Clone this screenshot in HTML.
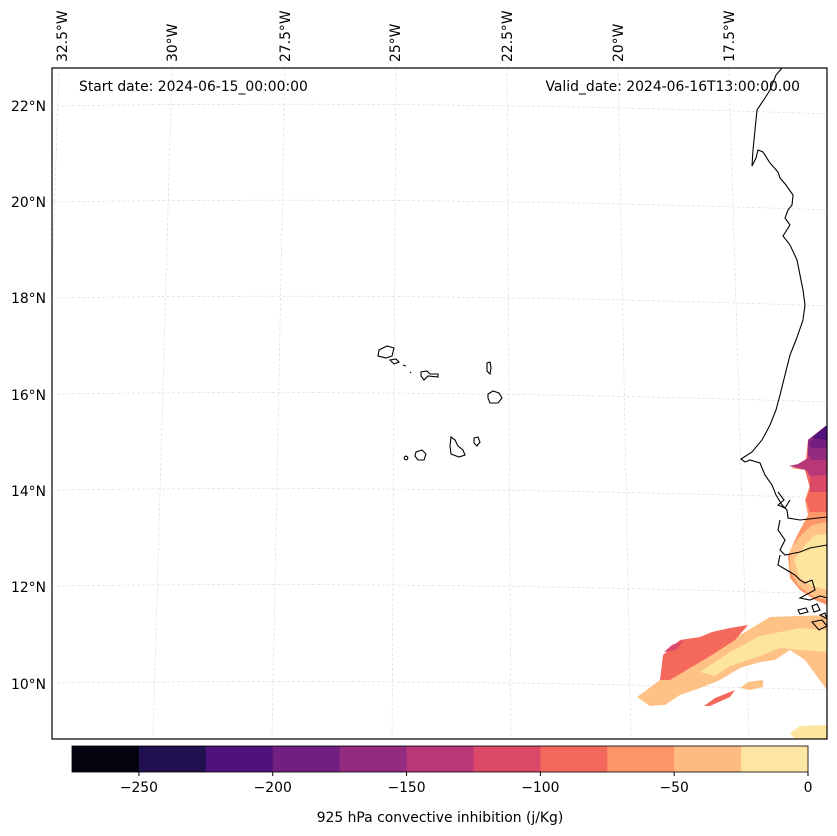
<!DOCTYPE html>
<html><head><meta charset="utf-8"><style>
body{margin:0;background:#fff}
svg{display:block;font-family:"DejaVu Sans","Liberation Sans",sans-serif}
</style></head><body>
<svg width="837" height="836" viewBox="0 0 837 836">
<defs><clipPath id="mapclip"><rect x="52" y="68" width="775" height="671"/></clipPath></defs>
<g clip-path="url(#mapclip)">
  <g stroke="#d8d8d8" stroke-width="0.6" stroke-dasharray="3,2" fill="none">
    <path d="M52,106 Q440,100 827,114"/>
    <path d="M52,202 Q440,196 827,210"/>
    <path d="M52,298 Q440,292 827,306"/>
    <path d="M52,394 Q440,389 827,402"/>
    <path d="M52,490 Q440,485 827,498"/>
    <path d="M52,586 Q440,581 827,594"/>
    <path d="M52,683 Q440,678 827,690"/>
    <path d="M59,68 L37,739"/>
    <path d="M172,68 L153,739"/>
    <path d="M285,68 L272,739"/>
    <path d="M396,68 L392,739"/>
    <path d="M507,68 L511,739"/>
    <path d="M618,68 L631,739"/>
    <path d="M729,68 L749,739"/>
  </g>
  <g stroke="none">
    <polygon fill="#fec287" points="637,697 660,680 700,660 740,635 770,617 827,615 827,690 805,660 790,650 775,660 760,662 740,668 720,680 700,688 680,695 665,705 650,706"/>
    <polygon fill="#f4695c" points="663,655 680,640 700,637 712,632 730,628 748,625 735,640 712,655 690,668 670,680 660,680"/>
    <polygon fill="#dd4a69" points="664,652 672,645 684,640 676,650"/>
    <polygon fill="#fde5a0" points="700,672 730,652 760,636 800,628 827,630 827,652 800,650 780,648 760,656 730,666 715,676"/>
    <polygon fill="#f4695c" points="704,706 715,698 735,690 730,697 710,706"/>
    <polygon fill="#fec287" points="740,688 748,682 763,680 763,687 750,690"/>
    <polygon fill="#fde5a0" points="790,733 800,726 827,725 827,739 795,739"/>
    <polygon fill="#fd9668" points="790,468 810,465 808,440 827,425 827,605 815,600 800,590 790,578 788,556 795,540 800,530 808,515 805,500 810,485 805,470"/>
    <polygon fill="#fec287" points="790,550 800,536 812,525 827,522 827,600 812,596 798,585 790,570"/>
    <polygon fill="#fde5a0" points="794,560 805,545 815,535 827,534 827,590 812,586 800,578"/>
    <polygon fill="#f4695c" points="805,470 808,440 827,425 827,512 810,512 806,500 810,488"/>
    <polygon fill="#dd4a69" points="807,465 808,440 827,425 827,492 810,492 810,478"/>
    <polygon fill="#b73779" points="789,466 798,464 808,458 808,440 827,425 827,475 810,476 806,470"/>
    <polygon fill="#932b80" points="808,455 808,440 827,425 827,460 812,460"/>
    <polygon fill="#721f81" points="808,444 827,425 827,448 812,448"/>
    <polygon fill="#4f127b" points="812,438 827,425 827,440"/>
  </g>
  <g fill="none" stroke="#000" stroke-width="1.1">
    <polyline points="782,68 776,75 770,90 765,98 757,110 755,130 753,150 752,166 756,158 758,150 763,152 770,163 778,172 780,178 786,185 793,195 792,205 788,210 785,218 790,225 783,236 790,245 797,260 800,275 803,290 805,305 803,320 796,340 790,355 785,375 780,395 776,410 770,425 762,440 752,452 741,459 745,462 750,460 760,463 765,475 772,485 776,495 782,505 787,510 788,518 800,520 827,517"/>
    <polyline points="778,492 784,500 778,505 785,508 790,500"/>
    <polyline points="780,520 778,530 785,540 780,550 785,555 800,552 810,548 827,545"/>
    <polyline points="780,555 778,565 790,572 795,575 800,580 805,583 812,580"/>
    <polyline points="812,580 815,590 800,598 810,600 820,596 827,598"/>
    <path d="M798,610 l8,-2 l2,4 l-8,2z M812,606 l5,-2 l3,6 l-6,2z M812,622 l10,-2 l5,6 l-8,4z M820,615 l5,-2 l2,6z"/>
    <path d="M379,350 l8,-4 l7,2 l-2,8 l-6,2 l-8,-2z"/>
    <path d="M390,360 l6,-1 l3,3 l-5,2z"/>
    <path d="M403,365 l3,1 M410,372 l1,1"/>
    <path d="M421,372 l6,-1 l3,3 l8,0 l0,3 l-10,-1 l-4,4 l-3,-4z"/>
    <path d="M487,363 l3,-1 l1,6 l-1,6 l-3,-3z"/>
    <path d="M488,394 l5,-3 l6,2 l3,5 l-4,5 l-8,0 l-2,-5z"/>
    <path d="M451,437 l4,3 l3,6 l5,4 l2,5 l-6,2 l-8,-3 l-1,-8z"/>
    <path d="M474,438 l4,-1 l2,5 l-3,4 l-3,-3z"/>
    <path d="M416,452 l6,-2 l4,4 l-2,6 l-6,0 l-3,-4z"/>
    <circle cx="406" cy="458" r="1.8"/>
  </g>
</g>
<rect x="52" y="68" width="775" height="671" fill="none" stroke="#000" stroke-width="1.2"/>
<text x="79" y="91" font-size="13.9">Start date: 2024-06-15_00:00:00</text>
<text x="800" y="91" font-size="13.9" text-anchor="end">Valid_date: 2024-06-16T13:00:00.00</text>
<g id="lonlabels" font-size="13.9"></g>
<g id="latlabels" font-size="13.9" text-anchor="end"></g>
<g id="cbar"></g>
<text x="440" y="822" font-size="13.9" text-anchor="middle">925 hPa convective inhibition (j/Kg)</text>
</svg>
<script>
const lonLabels=["32.5°W","30°W","27.5°W","25°W","22.5°W","20°W","17.5°W"];
const lonX=[62,172,285,395,507,618,729];
const latLabels=["22°N","20°N","18°N","16°N","14°N","12°N","10°N"];
const latY=[106,202,298,395,491,587,684];
const levels=[-275,-250,-225,-200,-175,-150,-125,-100,-75,-50,-25,0];
const levelColors=["#03030f","#211150","#4f127b","#711f81","#932b80","#b73779","#dc4868","#f3695c","#fd9567","#febb81","#fde5a3"];
const cbTicks=[-250,-200,-150,-100,-50,0];
const NS="http://www.w3.org/2000/svg";
function mk(t,a,p){const e=document.createElementNS(NS,t);for(const k in a)e.setAttribute(k,a[k]);p.appendChild(e);return e;}
const lg=document.getElementById('lonlabels');
lonLabels.forEach((s,i)=>{const t=mk('text',{transform:`translate(${lonX[i]+5},62) rotate(-90)`},lg);


t.textContent=s;});
const la=document.getElementById('latlabels');
latLabels.forEach((s,i)=>{const t=mk('text',{x:46,y:latY[i]+5},la);


t.textContent=s;});
const cb=document.getElementById('cbar');
const cx0=72,cx1=808,vmin=levels[0],vmax=levels[levels.length-1];
const xs=v=>cx0+(v-vmin)/(vmax-vmin)*(cx1-cx0);
for(let i=0;i<levelColors.length;i++){const r=mk('rect',{x:xs(levels[i]),y:746,width:xs(levels[i+1])-xs(levels[i])+0.5,height:26,fill:levelColors[i]},cb);

}
mk('rect',{x:cx0,y:746,width:cx1-cx0,height:26,fill:'none',stroke:'#000','stroke-width':0.8},cb);
cbTicks.forEach(v=>{const x=xs(v);mk('line',{x1:x,x2:x,y1:772,y2:776,stroke:'#000'},cb);
const t=mk('text',{x:x,y:792,'font-size':13.9,'text-anchor':'middle'},cb);


t.textContent=v<0?'\u2212'+Math.abs(v):String(v);});
</script>
</body></html>
